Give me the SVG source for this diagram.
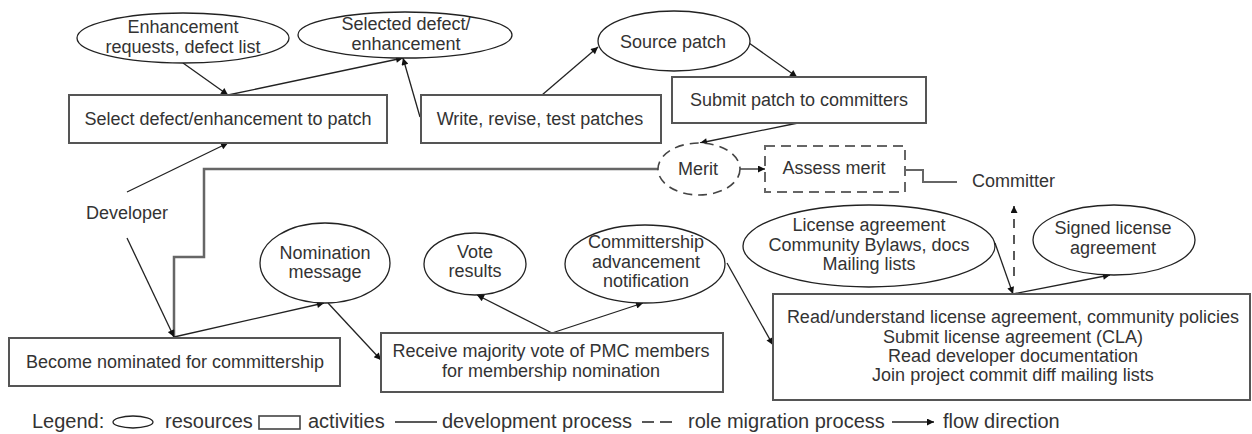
<svg xmlns="http://www.w3.org/2000/svg" width="1252" height="434" viewBox="0 0 1252 434">
<defs>
<marker id="arr" viewBox="0 0 10 10" refX="10" refY="5" markerWidth="9" markerHeight="7" markerUnits="userSpaceOnUse" orient="auto">
<path d="M0,0 L10,5 L0,10 Z" fill="#111"/>
</marker>
<style>
text{font-family:"Liberation Sans",Arial,sans-serif;font-size:18px;fill:#333;text-anchor:middle}
.res{fill:#fff;stroke:#222;stroke-width:1.3}
.act{fill:#fff;stroke:#555;stroke-width:2}
.dres{fill:#fff;stroke:#444;stroke-width:1.6;stroke-dasharray:9,6}
.dact{fill:#fff;stroke:#666;stroke-width:2;stroke-dasharray:10,6}
.e{fill:none;stroke:#222;stroke-width:1.3;marker-end:url(#arr)}
.dev{fill:none;stroke:#666;stroke-width:2.5}
.mig{fill:none;stroke:#222;stroke-width:1.5;stroke-dasharray:9,7;marker-end:url(#arr)}
.lg{font-size:20px;text-anchor:start}
.st{text-anchor:start}
</style>
</defs>
<rect width="1252" height="434" fill="#fff"/>

<g id="connectors">
<path class="dev" d="M658,169 L204,169 L204,257 L174,257 L174,337"/>
<path class="dev" d="M905,170 L923,170 L923,182 L957,182" style="stroke-width:2"/>
<line class="e" x1="183" y1="63" x2="228" y2="95"/>
<line class="e" x1="228" y1="95" x2="403" y2="58"/>
<line class="e" x1="420" y1="117" x2="403" y2="58"/>
<line class="e" x1="542" y1="95" x2="598" y2="47"/>
<line class="e" x1="749" y1="43" x2="797" y2="77"/>
<line class="e" x1="798" y1="123" x2="700" y2="143"/>
<line class="e" x1="740" y1="169" x2="765" y2="169"/>
<line class="e" x1="127" y1="192" x2="228" y2="143"/>
<line class="e" x1="127" y1="238" x2="174" y2="337"/>
<line class="e" x1="174" y1="337" x2="324" y2="303"/>
<line class="e" x1="328" y1="303" x2="381" y2="360"/>
<line class="e" x1="552" y1="333" x2="477" y2="295"/>
<line class="e" x1="552" y1="333" x2="643" y2="303"/>
<line class="e" x1="727" y1="263" x2="773" y2="345"/>
<line class="e" x1="995" y1="243" x2="1013" y2="294"/>
<line class="e" x1="1013" y1="294" x2="1110" y2="275"/>
<line class="mig" x1="1014" y1="276" x2="1014" y2="206"/>
</g>

<g id="enhancement-requests">
<ellipse class="res" cx="183" cy="38" rx="106" ry="25"/>
<text x="183" y="33">Enhancement</text>
<text x="183" y="53">requests, defect list</text>
</g>
<g id="selected-defect">
<ellipse class="res" cx="405" cy="35" rx="107" ry="23"/>
<text x="406" y="30">Selected defect/</text>
<text x="406" y="50">enhancement</text>
</g>
<g id="select-defect">
<rect class="act" x="69" y="95" width="318" height="48"/>
<text x="228" y="125">Select defect/enhancement to patch</text>
</g>
<g id="write-patches">
<rect class="act" x="421" y="95" width="240" height="48"/>
<text x="540" y="125">Write, revise, test patches</text>
</g>
<g id="source-patch">
<ellipse class="res" cx="674" cy="41" rx="76" ry="30"/>
<text x="673" y="48">Source patch</text>
</g>
<g id="submit-patch">
<rect class="act" x="672" y="77" width="254" height="46"/>
<text x="799" y="106">Submit patch to committers</text>
</g>
<g id="merit">
<ellipse class="dres" cx="699" cy="169" rx="41" ry="26"/>
<text x="698" y="175">Merit</text>
</g>
<g id="assess-merit">
<rect class="dact" x="765" y="146" width="140" height="46"/>
<text x="834" y="174">Assess merit</text>
</g>
<g id="committer">
<text class="st" x="972" y="187">Committer</text>
</g>
<g id="developer">
<text class="st" x="86" y="219">Developer</text>
</g>
<g id="nomination-message">
<ellipse class="res" cx="325" cy="263" rx="65" ry="40"/>
<text x="325" y="259">Nomination</text>
<text x="325" y="278">message</text>
</g>
<g id="become-nominated">
<rect class="act" x="9" y="338" width="331" height="48"/>
<text x="175" y="368">Become nominated for committership</text>
</g>
<g id="vote-results">
<ellipse class="res" cx="475" cy="264" rx="51" ry="31"/>
<text x="475" y="258">Vote</text>
<text x="475" y="277">results</text>
</g>
<g id="committership-notification">
<ellipse class="res" cx="645" cy="264" rx="80" ry="39"/>
<text x="646" y="248">Committership</text>
<text x="646" y="268">advancement</text>
<text x="646" y="287">notification</text>
</g>
<g id="receive-vote">
<rect class="act" x="381" y="333" width="342" height="59"/>
<text x="551" y="357">Receive majority vote of PMC members</text>
<text x="551" y="377">for membership nomination</text>
</g>
<g id="license-docs">
<ellipse class="res" cx="869" cy="246" rx="126" ry="41"/>
<text x="869" y="231">License agreement</text>
<text x="869" y="251">Community Bylaws, docs</text>
<text x="869" y="270">Mailing lists</text>
</g>
<g id="signed-license">
<ellipse class="res" cx="1114" cy="240" rx="81" ry="35"/>
<text x="1113" y="234">Signed license</text>
<text x="1113" y="254">agreement</text>
</g>
<g id="read-understand">
<rect class="act" x="773" y="294" width="477" height="106"/>
<text x="1013" y="323">Read/understand license agreement, community policies</text>
<text x="1013" y="343">Submit license agreement (CLA)</text>
<text x="1013" y="362">Read developer documentation</text>
<text x="1013" y="381">Join project commit diff mailing lists</text>
</g>

<g id="legend">
<text class="lg" x="32" y="428">Legend:</text>
<ellipse cx="133" cy="422" rx="20" ry="6" fill="none" stroke="#222" stroke-width="1.3"/>
<text class="lg" x="165" y="428">resources</text>
<rect x="259" y="416" width="41" height="13" fill="none" stroke="#444" stroke-width="1.6"/>
<text class="lg" x="308" y="428">activities</text>
<line x1="395" y1="422" x2="437" y2="422" stroke="#222" stroke-width="1.5"/>
<text class="lg" x="442" y="428">development process</text>
<line x1="642" y1="422" x2="672" y2="422" stroke="#222" stroke-width="1.5" stroke-dasharray="12,6"/>
<text class="lg" x="688" y="428">role migration process</text>
<line x1="892" y1="422" x2="934" y2="422" stroke="#222" stroke-width="1.5" marker-end="url(#arr)"/>
<text class="lg" x="943" y="428">flow direction</text>
</g>
</svg>
